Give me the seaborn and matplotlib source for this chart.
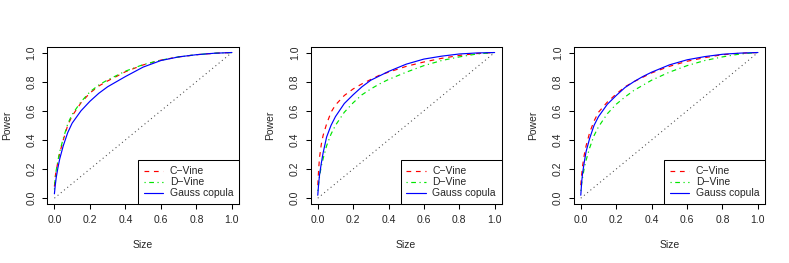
import numpy as np
import pandas as pd
import matplotlib
matplotlib.use("Agg")
import matplotlib.pyplot as plt
import seaborn as sns

# ---------------- data ----------------
size = [0.0, 0.005, 0.01, 0.02, 0.03, 0.05, 0.075, 0.1, 0.15, 0.2, 0.25,
        0.3, 0.35, 0.4, 0.5, 0.6, 0.7, 0.8, 0.9, 1.0]

p1_cvine = [0.08, 0.15, 0.19, 0.25, 0.31, 0.40, 0.50, 0.565, 0.655, 0.722, 0.77,
            0.805, 0.836, 0.868, 0.915, 0.948, 0.97, 0.985, 0.995, 1.0]
p1_dvine = [0.06, 0.14, 0.19, 0.26, 0.32, 0.41, 0.51, 0.575, 0.662, 0.73, 0.777,
            0.812, 0.842, 0.872, 0.917, 0.948, 0.97, 0.985, 0.995, 1.0]
p1_gauss = [0.03, 0.09, 0.14, 0.21, 0.27, 0.36, 0.45, 0.515, 0.60, 0.665, 0.72,
            0.765, 0.80, 0.835, 0.90, 0.945, 0.97, 0.985, 0.995, 1.0]

p2_cvine = [0.09, 0.20, 0.28, 0.37, 0.43, 0.51, 0.59, 0.64, 0.705, 0.75, 0.785,
            0.815, 0.845, 0.865, 0.905, 0.935, 0.96, 0.98, 0.993, 1.0]
p2_dvine = [0.05, 0.10, 0.15, 0.22, 0.27, 0.36, 0.44, 0.50, 0.59, 0.655, 0.71,
            0.75, 0.785, 0.815, 0.865, 0.91, 0.945, 0.97, 0.99, 1.0]
p2_gauss = [0.02, 0.10, 0.16, 0.24, 0.31, 0.42, 0.50, 0.56, 0.65, 0.71, 0.765,
            0.81, 0.84, 0.87, 0.92, 0.955, 0.975, 0.99, 0.997, 1.0]

p3_cvine = [0.09, 0.16, 0.22, 0.30, 0.36, 0.45, 0.53, 0.59, 0.66, 0.715, 0.765,
            0.80, 0.83, 0.86, 0.905, 0.94, 0.965, 0.985, 0.995, 1.0]
p3_dvine = [0.05, 0.10, 0.14, 0.21, 0.26, 0.345, 0.43, 0.49, 0.58, 0.645, 0.695,
            0.74, 0.775, 0.81, 0.865, 0.91, 0.945, 0.97, 0.99, 1.0]
p3_gauss = [0.02, 0.11, 0.17, 0.25, 0.32, 0.41, 0.50, 0.56, 0.645, 0.705, 0.76,
            0.80, 0.835, 0.865, 0.915, 0.95, 0.972, 0.988, 0.996, 1.0]

methods = ["C\u2212Vine", "D\u2212Vine", "Gauss copula"]
diag = [0.0, 1.0]
ticks = [0.0, 0.2, 0.4, 0.6, 0.8, 1.0]
tick_labels = ["0.0", "0.2", "0.4", "0.6", "0.8", "1.0"]

panels = [(p1_cvine, p1_dvine, p1_gauss),
          (p2_cvine, p2_dvine, p2_gauss),
          (p3_cvine, p3_dvine, p3_gauss)]

# ---------------- style ----------------
sns.set_style("white")
plt.rcParams["font.family"] = ["Liberation Sans", "DejaVu Sans"]
plt.rcParams["axes.linewidth"] = 0.75
plt.rcParams["lines.scale_dashes"] = True

palette = {methods[0]: "#FF0000", methods[1]: "#00E600", methods[2]: "#0000FF"}
dashes = {methods[0]: (4, 4), methods[1]: (1, 3, 4, 3), methods[2]: ""}

fig = plt.figure(figsize=(7.89, 2.63), dpi=100)
lefts = [47.3, 310.7, 573.7]
widths = [191.7, 191.0, 191.3]
W, H = 789.0, 263.0
bottom = 1 - 204.0 / H
height = (204.0 - 46.7) / H
FS = 7.5

for i, (cv, dv, gc) in enumerate(panels):
    ax = fig.add_axes([lefts[i] / W, bottom, widths[i] / W, height])
    df = pd.DataFrame({
        "Size": size * 3,
        "Power": list(cv) + list(dv) + list(gc),
        "Method": [m for m in methods for _ in size],
    })
    ax.plot(diag, diag, linestyle=(0, (1, 3)), color="#444444", linewidth=0.75)
    sns.lineplot(data=df, x="Size", y="Power", hue="Method", style="Method",
                 palette=palette, dashes=dashes, hue_order=methods,
                 style_order=methods, estimator=None, sort=False,
                 linewidth=0.85, ax=ax, legend=False)
    ax.set_xlim(-0.04, 1.04)
    ax.set_ylim(-0.04, 1.04)
    ax.set_xticks(ticks)
    ax.set_xticklabels(tick_labels, fontsize=FS)
    ax.set_yticks(ticks)
    ax.set_yticklabels(tick_labels, fontsize=FS, rotation=90, va="center")
    ax.tick_params(axis="both", direction="out", length=3.6, width=0.75,
                   color="black", bottom=True, left=True)
    ax.tick_params(axis="x", pad=4.6)
    ax.tick_params(axis="y", pad=4.2)
    for s in ax.spines.values():
        s.set_visible(True)
        s.set_color("black")
        s.set_linewidth(0.75)
    ax.set_xlabel("Size", fontsize=FS)
    ax.set_ylabel("Power", fontsize=FS)
    ax.xaxis.set_label_coords(0.5, (204.0 - 245.0) / 157.3)
    ax.xaxis.label.set_va("center")
    ylx = [6.7, 270.0, 533.3][i]
    ax.yaxis.set_label_coords((ylx - lefts[i]) / widths[i], 0.5)
    ax.yaxis.label.set_va("center")

    handles = ax.get_lines()[1:4]
    leg = ax.legend(handles, methods, loc="lower right", borderaxespad=0,
                    fontsize=FS, frameon=True, fancybox=False, framealpha=1,
                    edgecolor="black", handlelength=1.85, handletextpad=0.65,
                    borderpad=0.55, labelspacing=0.1)
    leg.get_frame().set_linewidth(0.75)

fig.savefig("out.png", dpi=100)
